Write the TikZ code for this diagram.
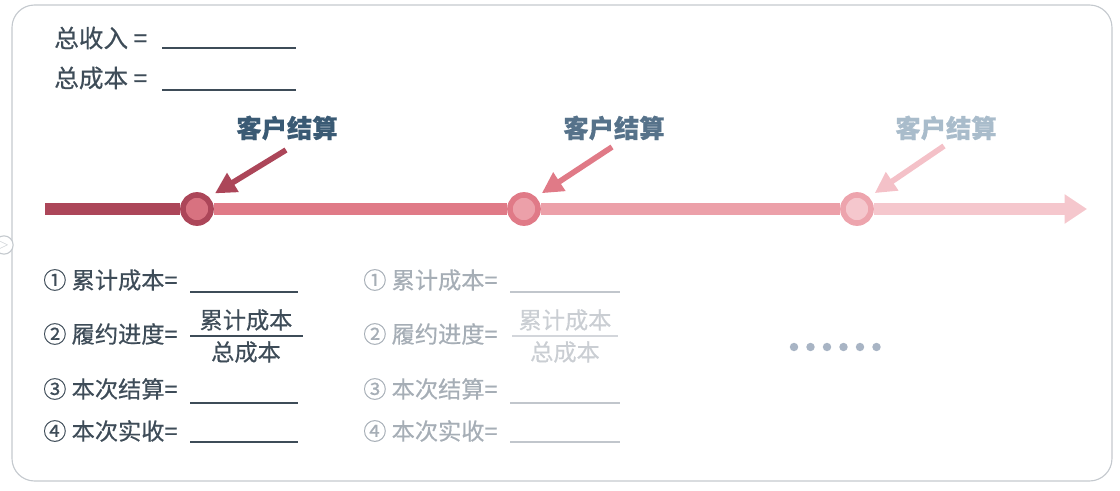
\documentclass[tikz,border=0pt]{standalone}
\usepackage{fontspec}
\newfontfamily\cjk[FakeBold=0.5]{Noto Sans CJK SC}
\usetikzlibrary{arrows.meta}
\definecolor{inkdark}{HTML}{3E4C58}
\definecolor{inklight}{HTML}{A6AEB6}
\definecolor{labA}{HTML}{3A5A74}
\definecolor{labB}{HTML}{56728A}
\definecolor{labC}{HTML}{A9BCCB}
\definecolor{dotc}{HTML}{A8B4C4}
\definecolor{lineA}{HTML}{AC4659}
\definecolor{lineB}{HTML}{E07A87}
\definecolor{lineC}{HTML}{ECA0A9}
\definecolor{lineD}{HTML}{F5C7CD}
\definecolor{frame}{HTML}{C4C9CE}
\tikzset{
  txt/.style={font=\cjk\fontsize{16.5}{19}\selectfont, inner sep=0pt, anchor=west},
  lab/.style={font=\cjk\bfseries\fontsize{18}{21}\selectfont, inner sep=0pt},
  seg/.style={line width=9.2pt},
  stop/.style={circle, inner sep=0pt, minimum size=20pt, line width=4pt},
  callout/.style={line width=4pt, -{Triangle[length=15pt,width=15pt]}, shorten >=5pt},
  blank/.style={line width=0.8pt}
}
\begin{document}
\begin{tikzpicture}[x=0.025cm, y=-0.025cm]
  \useasboundingbox (0,0) rectangle (1120,491);
  % frame
  \draw[frame, line width=0.8pt, rounded corners=16pt] (12,5) rectangle (1112,481);
  \node[circle, draw=frame, fill=white, line width=0.8pt, minimum size=13pt, inner sep=0pt,
        font=\sffamily\small, text=frame] (mark) at (4,245) {$>$};
  % totals
  \node[txt, text=inkdark] (rev) at (54,38) {\fontsize{17.5}{20}\selectfont 总收入 =};
  \node[txt, text=inkdark] (cost) at (54,78) {\fontsize{17.5}{20}\selectfont 总成本 =};
  \draw[blank, inkdark] (162,48) -- (296,48);
  \draw[blank, inkdark] (162,90) -- (296,90);
  % timeline
  \coordinate (s) at (45,209);
  \coordinate (e) at (1087,209);
  \node[stop, draw=lineA, fill=lineB!85!lineA] (k1) at (197,209) {};
  \node[stop, draw=lineB, fill=lineC] (k2) at (524,209) {};
  \node[stop, draw=lineC!90!lineD, fill=lineD] (k3) at (857,209) {};
  \draw[seg, lineA] (s) -- (k1.west);
  \draw[seg, lineB] (k1.east) -- (k2.west);
  \draw[seg, lineC] (k2.east) -- (k3.west);
  \draw[seg, lineD, -{Triangle[length=16pt,width=20pt]}] (k3.east) -- (e);
  % settlements
  \node[lab, text=labA] (l1) at (287,128) {客户结算};
  \node[lab, text=labB] (l2) at (614,128) {客户结算};
  \node[lab, text=labC] (l3) at (946,128) {客户结算};
  \coordinate (a1) at (286,150);
  \coordinate (a2) at (612,147);
  \coordinate (a3) at (944,146);
  \draw[callout, lineA] (a1) -- (k1.north east);
  \draw[callout, lineB] (a2) -- (k2.north east);
  \draw[callout, lineD!85!lineC] (a3) -- (k3.north east);
  % first settlement
  \foreach \n/\y/\t in {1/280/{① 累计成本=}, 2/334/{② 履约进度=}, 3/389/{③ 本次结算=}, 4/431/{④ 本次实收=}}{
    \node[txt, text=inkdark] (p\n) at (43,\y) {\t};
    \node[txt, text=inklight] (q\n) at (363,\y) {\t};
  }
  \foreach \y in {292,403,442}{
    \draw[blank, inkdark] (190,\y) -- (298,\y);
    \draw[blank, inklight!70!white] (510,\y) -- (620,\y);
  }
  \node[txt, anchor=center, text=inkdark] (pn) at (246,320) {累计成本};
  \node[txt, anchor=center, text=inkdark] (pd) at (246,352) {总成本};
  \draw[blank, inkdark] (190,336) -- (303,336);
  \node[txt, anchor=center, text=inklight!60!white] (qn) at (565,320) {累计成本};
  \node[txt, anchor=center, text=inklight!60!white] (qd) at (565,352) {总成本};
  \draw[blank, inklight!50!white] (512,336) -- (618,336);
  % more
  \foreach \i in {0,...,5}
    \fill[dotc] (794+\i*16.5,347) circle (3pt);
\end{tikzpicture}
\end{document}
